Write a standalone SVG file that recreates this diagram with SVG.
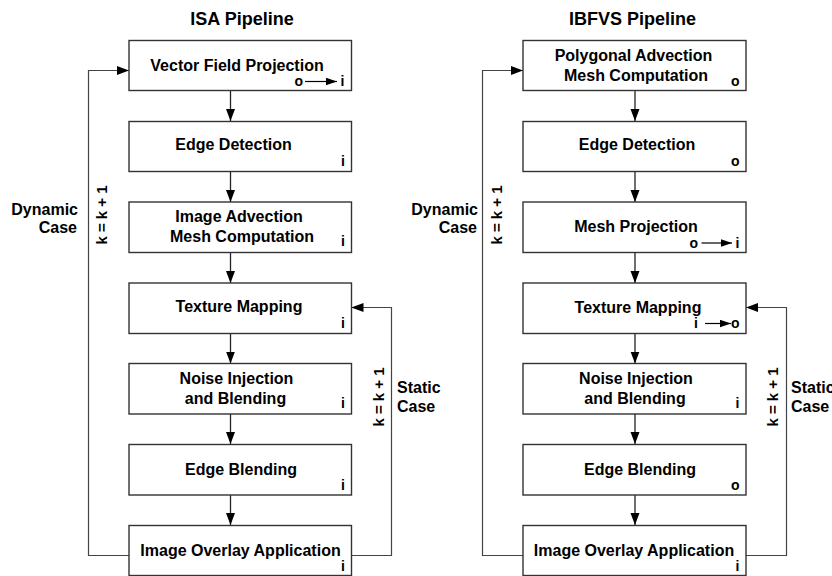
<svg xmlns="http://www.w3.org/2000/svg" width="832" height="576" viewBox="0 0 832 576">
<style>
.box{fill:#fff;stroke:#333;stroke-width:1.4}
.t{font-family:"Liberation Sans",Arial,sans-serif;font-weight:bold;font-size:16px;fill:#000;text-anchor:middle}
.title{font-family:"Liberation Sans",Arial,sans-serif;font-weight:bold;font-size:18px;fill:#000;text-anchor:middle}
.s{font-family:"Liberation Sans",Arial,sans-serif;font-weight:bold;font-size:14px;fill:#000}
.lab{font-family:"Liberation Sans",Arial,sans-serif;font-weight:bold;font-size:16px;fill:#000}
.rot{font-family:"Liberation Sans",Arial,sans-serif;font-weight:bold;font-size:15px;fill:#000;text-anchor:middle}
.c{fill:none;stroke:#222;stroke-width:1.3}
.loop{fill:none;stroke:#444;stroke-width:1.2}
.sm{fill:none;stroke:#000;stroke-width:1.2}
</style>
<defs>
<marker id="ah" markerUnits="userSpaceOnUse" markerWidth="12" markerHeight="10" refX="12" refY="4.5" orient="auto">
<path d="M0,0 L12,4.5 L0,9 z" fill="#000"/>
</marker>
<marker id="ahs" markerUnits="userSpaceOnUse" markerWidth="12" markerHeight="8" refX="11" refY="3.75" orient="auto">
<path d="M0,0 L11,3.75 L0,7.5 z" fill="#000"/>
</marker>
</defs>

<text class="title" x="242" y="25">ISA Pipeline</text>
<text class="title" x="632.5" y="25">IBFVS Pipeline</text>

<g id="connectors">
<path class="c" d="M230.5,90.5 V121" marker-end="url(#ah)"/>
<path class="c" d="M230.5,171.5 V202" marker-end="url(#ah)"/>
<path class="c" d="M230.5,252.5 V283" marker-end="url(#ah)"/>
<path class="c" d="M230.5,333.5 V363.5" marker-end="url(#ah)"/>
<path class="c" d="M230.5,414 V444" marker-end="url(#ah)"/>
<path class="c" d="M230.5,495 V525" marker-end="url(#ah)"/>
<path class="loop" d="M129,555.5 H88.5 V70.5 H129" marker-end="url(#ah)"/>
<path class="loop" d="M351.5,555.5 H391.5 V307.5 H351.5" marker-end="url(#ah)"/>

<path class="c" d="M635,90.5 V121" marker-end="url(#ah)"/>
<path class="c" d="M635,171.5 V202" marker-end="url(#ah)"/>
<path class="c" d="M635,252.5 V283" marker-end="url(#ah)"/>
<path class="c" d="M635,333.5 V363.5" marker-end="url(#ah)"/>
<path class="c" d="M635,414 V444" marker-end="url(#ah)"/>
<path class="c" d="M635,495 V525" marker-end="url(#ah)"/>
<path class="loop" d="M523,555.5 H482.5 V70.5 H523" marker-end="url(#ah)"/>
<path class="loop" d="M746,555.5 H786.5 V307.5 H746" marker-end="url(#ah)"/>
</g>

<g id="isa-vfp">
<rect class="box" x="129" y="40.5" width="222.5" height="50"/>
<text class="t" x="237" y="71">Vector Field Projection</text>
<text class="s" x="294.5" y="86">o</text>
<path class="sm" d="M305,81.5 H337" marker-end="url(#ahs)"/>
<text class="s" x="340.5" y="86">i</text>
</g>
<g id="isa-edge">
<rect class="box" x="129" y="121.5" width="222.5" height="50"/>
<text class="t" x="233.5" y="150">Edge Detection</text>
<text class="s" x="341" y="166">i</text>
</g>
<g id="isa-mesh">
<rect class="box" x="129" y="202" width="222.5" height="50.5"/>
<text class="t" x="239" y="222">Image Advection</text>
<text class="t" x="242" y="242">Mesh Computation</text>
<text class="s" x="341" y="246">i</text>
</g>
<g id="isa-tex">
<rect class="box" x="129" y="283" width="222.5" height="50.5"/>
<text class="t" x="239" y="312">Texture Mapping</text>
<text class="s" x="341" y="328">i</text>
</g>
<g id="isa-noise">
<rect class="box" x="129" y="363.5" width="222.5" height="50.5"/>
<text class="t" x="236.5" y="383.5">Noise Injection</text>
<text class="t" x="235.5" y="403.5">and Blending</text>
<text class="s" x="341" y="407.5">i</text>
</g>
<g id="isa-eblend">
<rect class="box" x="129" y="444.5" width="222.5" height="50.5"/>
<text class="t" x="241" y="475">Edge Blending</text>
<text class="s" x="341" y="489.5">i</text>
</g>
<g id="isa-overlay">
<rect class="box" x="129" y="525.5" width="222.5" height="50"/>
<text class="t" x="240.5" y="556">Image Overlay Application</text>
<text class="s" x="341" y="571">i</text>
</g>

<g id="isa-dynamic-label">
<text class="lab" x="78" y="215" text-anchor="end">Dynamic</text>
<text class="lab" x="77" y="233" text-anchor="end">Case</text>
<text class="rot" transform="translate(107,215) rotate(-90)">k = k + 1</text>
</g>
<g id="isa-static-label">
<text class="lab" x="397" y="393">Static</text>
<text class="lab" x="397" y="412">Case</text>
<text class="rot" transform="translate(384,397) rotate(-90)">k = k + 1</text>
</g>

<g id="ibfvs-poly">
<rect class="box" x="523" y="40.5" width="223" height="50"/>
<text class="t" x="633.5" y="61">Polygonal Advection</text>
<text class="t" x="636" y="81">Mesh Computation</text>
<text class="s" x="731" y="86">o</text>
</g>
<g id="ibfvs-edge">
<rect class="box" x="523" y="121.5" width="223" height="50"/>
<text class="t" x="637" y="150">Edge Detection</text>
<text class="s" x="731" y="166">o</text>
</g>
<g id="ibfvs-meshproj">
<rect class="box" x="523" y="202" width="223" height="50.5"/>
<text class="t" x="636" y="232">Mesh Projection</text>
<text class="s" x="689.5" y="247.5">o</text>
<path class="sm" d="M701.5,243 H732" marker-end="url(#ahs)"/>
<text class="s" x="735.5" y="247.5">i</text>
</g>
<g id="ibfvs-tex">
<rect class="box" x="523" y="283" width="223" height="50.5"/>
<text class="t" x="638" y="312.5">Texture Mapping</text>
<text class="s" x="694" y="328">i</text>
<path class="sm" d="M705,323.5 H731" marker-end="url(#ahs)"/>
<text class="s" x="731" y="328">o</text>
</g>
<g id="ibfvs-noise">
<rect class="box" x="523" y="363.5" width="223" height="50.5"/>
<text class="t" x="636" y="383.5">Noise Injection</text>
<text class="t" x="635" y="403.5">and Blending</text>
<text class="s" x="735.5" y="408">i</text>
</g>
<g id="ibfvs-eblend">
<rect class="box" x="523" y="444.5" width="223" height="50.5"/>
<text class="t" x="640" y="475">Edge Blending</text>
<text class="s" x="731" y="490">o</text>
</g>
<g id="ibfvs-overlay">
<rect class="box" x="523" y="525.5" width="223" height="50"/>
<text class="t" x="634" y="556">Image Overlay Application</text>
<text class="s" x="735.5" y="571">i</text>
</g>

<g id="ibfvs-dynamic-label">
<text class="lab" x="478" y="215" text-anchor="end">Dynamic</text>
<text class="lab" x="477" y="233" text-anchor="end">Case</text>
<text class="rot" transform="translate(502,215) rotate(-90)">k = k + 1</text>
</g>
<g id="ibfvs-static-label">
<text class="lab" x="791" y="393">Static</text>
<text class="lab" x="791" y="412">Case</text>
<text class="rot" transform="translate(777.5,397) rotate(-90)">k = k + 1</text>
</g>
</svg>
